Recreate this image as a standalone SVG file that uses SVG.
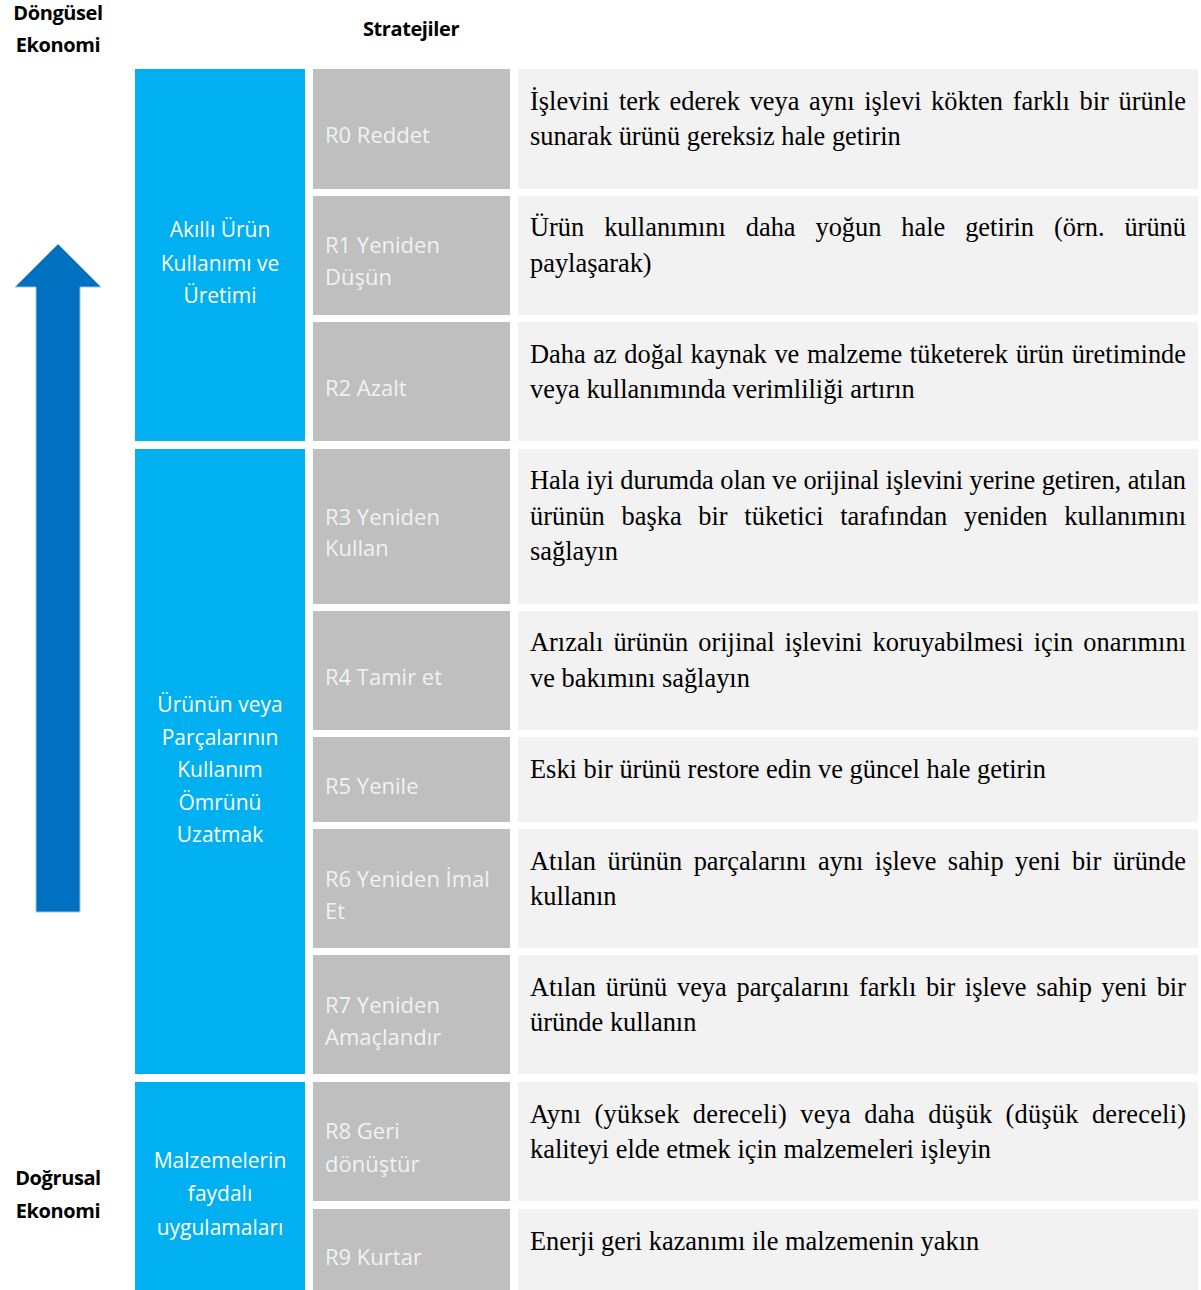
<svg xmlns="http://www.w3.org/2000/svg" width="1201" height="1290" viewBox="0 0 1201 1290">
<style>
.hdr{font-family:"Open Sans","Liberation Sans",sans-serif;font-weight:bold;font-size:20px;fill:#000;text-anchor:middle;letter-spacing:-0.4px}
.blue{fill:#00B0F0}
.grey{fill:#BFBFBF}
.light{fill:#F2F2F2}
.bt{font-family:"Open Sans","Liberation Sans",sans-serif;font-size:21px;fill:#fff;text-anchor:middle}
.gt{font-family:"Open Sans","Liberation Sans",sans-serif;font-size:22px;fill:#F2F2F2}
.dt{font-family:"Liberation Serif","Times New Roman",serif;font-size:26.4px;fill:#000}
</style>
<rect width="1201" height="1290" fill="#fff"/>
<g id="headers">
<text class="hdr" x="58" y="20">Döngüsel</text>
<text class="hdr" x="58" y="52">Ekonomi</text>
<text class="hdr" x="411" y="36">Stratejiler</text>
<text class="hdr" x="58" y="1185">Doğrusal</text>
<text class="hdr" x="58" y="1218">Ekonomi</text>
</g>
<g id="arrow">
<polygon points="58,244 101,287 80,287 80,912 36,912 36,287 15,287" fill="#0070C0" stroke="#9DC3E6" stroke-width="1"/>
</g>
<g id="group1">
<rect class="blue" x="135" y="69" width="170" height="372"/>
<text class="bt" x="220" y="237">Akıllı Ürün</text>
<text class="bt" x="220" y="271">Kullanımı ve</text>
<text class="bt" x="220" y="303">Üretimi</text>
</g>
<g id="group2">
<rect class="blue" x="135" y="449" width="170" height="625"/>
<text class="bt" x="220" y="712">Ürünün veya</text>
<text class="bt" x="220" y="745">Parçalarının</text>
<text class="bt" x="220" y="777">Kullanım</text>
<text class="bt" x="220" y="810">Ömrünü</text>
<text class="bt" x="220" y="842">Uzatmak</text>
</g>
<g id="group3">
<rect class="blue" x="135" y="1082" width="170" height="208"/>
<text class="bt" x="220" y="1168">Malzemelerin</text>
<text class="bt" x="220" y="1201">faydalı</text>
<text class="bt" x="220" y="1235">uygulamaları</text>
</g>
<g id="R0">
<rect class="grey" x="313" y="69" width="197" height="120"/>
<rect class="light" x="518" y="69" width="680" height="120"/>
<text class="gt" x="325" y="143">R0 Reddet</text>
<text class="dt" x="530" y="110" word-spacing="3" textLength="656" lengthAdjust="spacing">İşlevini terk ederek veya aynı işlevi kökten farklı bir ürünle</text>
<text class="dt" x="530" y="145">sunarak ürünü gereksiz hale getirin</text>
</g>
<g id="R1">
<rect class="grey" x="313" y="196" width="197" height="119"/>
<rect class="light" x="518" y="196" width="680" height="119"/>
<text class="gt" x="325" y="253">R1 Yeniden</text>
<text class="gt" x="325" y="285">Düşün</text>
<text class="dt" x="530" y="236" word-spacing="13.3" textLength="656" lengthAdjust="spacing">Ürün kullanımını daha yoğun hale getirin (örn. ürünü</text>
<text class="dt" x="530" y="272">paylaşarak)</text>
</g>
<g id="R2">
<rect class="grey" x="313" y="322" width="197" height="119"/>
<rect class="light" x="518" y="322" width="680" height="119"/>
<text class="gt" x="325" y="396">R2 Azalt</text>
<text class="dt" x="530" y="363" word-spacing="1" textLength="656" lengthAdjust="spacing">Daha az doğal kaynak ve malzeme tüketerek ürün üretiminde</text>
<text class="dt" x="530" y="398">veya kullanımında verimliliği artırın</text>
</g>
<g id="R3">
<rect class="grey" x="313" y="449" width="197" height="155"/>
<rect class="light" x="518" y="449" width="680" height="155"/>
<text class="gt" x="325" y="525">R3 Yeniden</text>
<text class="gt" x="325" y="556">Kullan</text>
<text class="dt" x="530" y="489" word-spacing="0" textLength="656" lengthAdjust="spacing">Hala iyi durumda olan ve orijinal işlevini yerine getiren, atılan</text>
<text class="dt" x="530" y="525" word-spacing="10.1" textLength="656" lengthAdjust="spacing">ürünün başka bir tüketici tarafından yeniden kullanımını</text>
<text class="dt" x="530" y="560">sağlayın</text>
</g>
<g id="R4">
<rect class="grey" x="313" y="611" width="197" height="119"/>
<rect class="light" x="518" y="611" width="680" height="119"/>
<text class="gt" x="325" y="685">R4 Tamir et</text>
<text class="dt" x="530" y="651" word-spacing="3.5" textLength="656" lengthAdjust="spacing">Arızalı ürünün orijinal işlevini koruyabilmesi için onarımını</text>
<text class="dt" x="530" y="687">ve bakımını sağlayın</text>
</g>
<g id="R5">
<rect class="grey" x="313" y="737" width="197" height="85"/>
<rect class="light" x="518" y="737" width="680" height="85"/>
<text class="gt" x="325" y="794">R5 Yenile</text>
<text class="dt" x="530" y="778">Eski bir ürünü restore edin ve güncel hale getirin</text>
</g>
<g id="R6">
<rect class="grey" x="313" y="829" width="197" height="119"/>
<rect class="light" x="518" y="829" width="680" height="119"/>
<text class="gt" x="325" y="887">R6 Yeniden İmal</text>
<text class="gt" x="325" y="919">Et</text>
<text class="dt" x="530" y="870" word-spacing="4.8" textLength="656" lengthAdjust="spacing">Atılan ürünün parçalarını aynı işleve sahip yeni bir üründe</text>
<text class="dt" x="530" y="905">kullanın</text>
</g>
<g id="R7">
<rect class="grey" x="313" y="955" width="197" height="119"/>
<rect class="light" x="518" y="955" width="680" height="119"/>
<text class="gt" x="325" y="1013">R7 Yeniden</text>
<text class="gt" x="325" y="1045">Amaçlandır</text>
<text class="dt" x="530" y="996" word-spacing="3" textLength="656" lengthAdjust="spacing">Atılan ürünü veya parçalarını farklı bir işleve sahip yeni bir</text>
<text class="dt" x="530" y="1031">üründe kullanın</text>
</g>
<g id="R8">
<rect class="grey" x="313" y="1082" width="197" height="119"/>
<rect class="light" x="518" y="1082" width="680" height="119"/>
<text class="gt" x="325" y="1139">R8 Geri</text>
<text class="gt" x="325" y="1172">dönüştür</text>
<text class="dt" x="530" y="1123" word-spacing="6.4" textLength="656" lengthAdjust="spacing">Aynı (yüksek dereceli) veya daha düşük (düşük dereceli)</text>
<text class="dt" x="530" y="1158">kaliteyi elde etmek için malzemeleri işleyin</text>
</g>
<g id="R9">
<rect class="grey" x="313" y="1209" width="197" height="81"/>
<rect class="light" x="518" y="1209" width="680" height="81"/>
<text class="gt" x="325" y="1265">R9 Kurtar</text>
<text class="dt" x="530" y="1250">Enerji geri kazanımı ile malzemenin yakın</text>
</g>
<g id="connectors"></g>
</svg>
